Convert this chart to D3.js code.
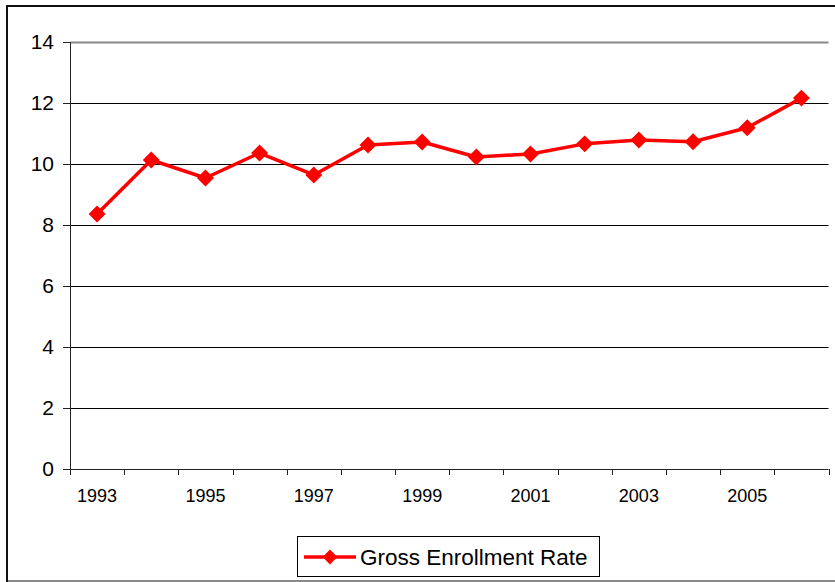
<!DOCTYPE html>
<html>
<head>
<meta charset="utf-8">
<script src="https://cdnjs.cloudflare.com/ajax/libs/d3/7.8.5/d3.min.js"></script>
<style>
  body { margin: 0; background: #fff; }
  svg { display: block; font-family: "Liberation Sans", Arial, sans-serif; }
</style>
</head>
<body>
<div class="chart-container"></div>
<script>
// data
const years = [1993, 1994, 1995, 1996, 1997, 1998, 1999, 2000, 2001, 2002, 2003, 2004, 2005, 2006];
const rates = [8.36, 10.13, 9.54, 10.36, 9.64, 10.62, 10.72, 10.23, 10.33, 10.66, 10.79, 10.73, 11.19, 12.16];
const yTicks = [0, 2, 4, 6, 8, 10, 12, 14];
const xLabels = [1993, 1995, 1997, 1999, 2001, 2003, 2005];
const seriesName = 'Gross Enrollment Rate';

const W = 835, H = 582;
const margin = {l: 70, t: 42, r: 6.5, b: 113}; // plot spans 70..828.5 x 42..469
const w = W - margin.l - margin.r;
const h = H - margin.t - margin.b;
const red = '#ff0000';

const svg = d3.select('.chart-container').append('svg')
    .attr('width', W)
    .attr('height', H);

// chart frame
svg.append('rect')
    .attr('x', 7).attr('y', 6)
    .attr('width', 840).attr('height', 575)
    .attr('fill', 'none')
    .attr('stroke', '#111')
    .attr('stroke-width', 2);
svg.append('line') // bottom edge shows grey in the picture
    .attr('x1', 8).attr('x2', W)
    .attr('y1', 581).attr('y2', 581)
    .attr('stroke', '#888')
    .attr('stroke-width', 2);

const g = svg.append('g')
    .attr('transform', `translate(${margin.l},${margin.t})`);

// scales
const scaleX = d3.scaleBand()
    .domain(years)
    .range([0, w]);
const scaleY = d3.scaleLinear()
    .domain([0, 14])
    .range([h, 0]);

// gridlines
g.append('g').attr('class', 'grid')
    .selectAll('line')
    .data(yTicks.filter(d => d > 0))
    .join('line')
    .attr('x1', 0).attr('x2', w)
    .attr('y1', d => Math.round(scaleY(d)) + 0.5)
    .attr('y2', d => Math.round(scaleY(d)) + 0.5)
    .attr('stroke', d => d === 14 ? '#888' : '#000')
    .attr('stroke-width', d => d === 14 ? 2 : 1);

// y axis
const axisY = d3.axisLeft(scaleY)
    .tickValues(yTicks)
    .tickSize(7)
    .tickPadding(9)
    .tickFormat(d3.format('d'));
const gy = g.append('g').attr('class', 'y-axis').call(axisY);
gy.select('.domain').attr('stroke', '#222');
gy.selectAll('.tick line').attr('stroke', '#222');
gy.selectAll('text')
    .attr('font-size', '21px')
    .attr('fill', '#000');

// x axis: ticks on category boundaries, labels every other year
const boundaries = years.map(d => scaleX(d)).concat([w]);
const gx = g.append('g').attr('class', 'x-axis')
    .attr('transform', `translate(0,${h})`);
gx.append('line')
    .attr('x1', 0).attr('x2', w)
    .attr('y1', 0.5).attr('y2', 0.5)
    .attr('stroke', '#222');
gx.selectAll('.xtick')
    .data(boundaries)
    .join('line')
    .attr('class', 'xtick')
    .attr('x1', d => Math.round(d) + 0.5)
    .attr('x2', d => Math.round(d) + 0.5)
    .attr('y1', 0).attr('y2', 6)
    .attr('stroke', '#222');
gx.selectAll('.xlabel')
    .data(xLabels)
    .join('text')
    .attr('class', 'xlabel')
    .attr('x', d => scaleX(d) + scaleX.bandwidth() / 2)
    .attr('y', 33)
    .attr('text-anchor', 'middle')
    .attr('font-size', '18px')
    .attr('fill', '#000')
    .text(d => d);

// the series
const line = d3.line()
    .x((d, i) => scaleX(years[i]) + scaleX.bandwidth() / 2)
    .y(d => scaleY(d));
g.append('path')
    .datum(rates)
    .attr('d', line)
    .attr('fill', 'none')
    .attr('stroke', red)
    .attr('stroke-width', 3.5)
    .attr('stroke-linejoin', 'round');

const diamond = d3.symbol().type(d3.symbolSquare).size(144);
g.selectAll('.marker')
    .data(rates)
    .join('path')
    .attr('class', 'marker')
    .attr('d', diamond)
    .attr('fill', red)
    .attr('transform', (d, i) =>
        `translate(${scaleX(years[i]) + scaleX.bandwidth() / 2},${scaleY(d)}) rotate(45)`);

// legend
const legend = svg.append('g').attr('class', 'legend')
    .attr('transform', 'translate(297,536)');
legend.append('rect')
    .attr('x', 0.5).attr('y', 0.5)
    .attr('width', 302).attr('height', 40)
    .attr('fill', '#fff')
    .attr('stroke', '#000');
legend.append('line')
    .attr('x1', 7).attr('x2', 59)
    .attr('y1', 21).attr('y2', 21)
    .attr('stroke', red)
    .attr('stroke-width', 3.5);
legend.append('path')
    .attr('d', d3.symbol().type(d3.symbolSquare).size(110))
    .attr('fill', red)
    .attr('transform', 'translate(33,21) rotate(45)');
legend.append('text')
    .attr('x', 63).attr('y', 29)
    .attr('font-size', '22.5px')
    .attr('fill', '#000')
    .text(seriesName);
</script>
</body>
</html>
